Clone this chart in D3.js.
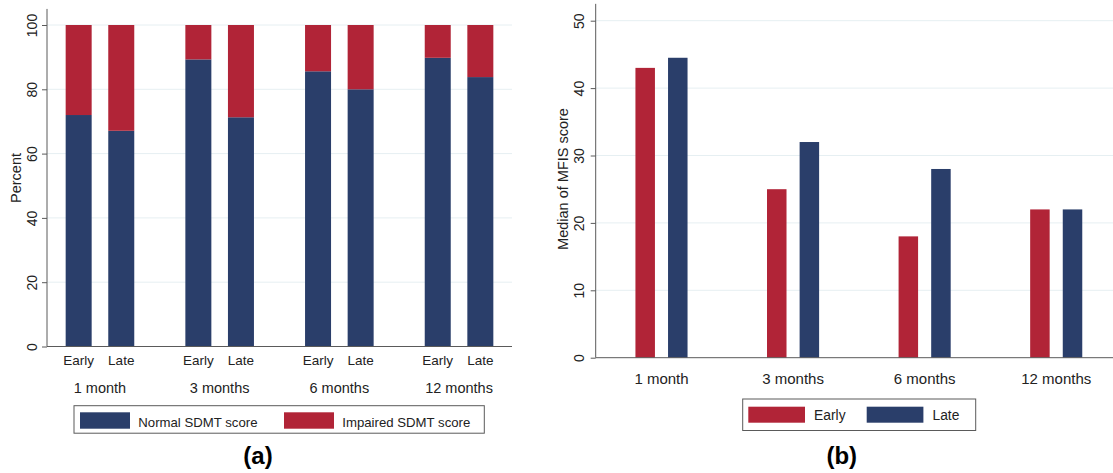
<!DOCTYPE html>
<html>
<head>
<meta charset="utf-8">
<script src="https://cdn.jsdelivr.net/npm/d3@7"></script>
<style>
  body { margin: 0; background: #fff; }
  svg { font-family: "Liberation Sans", Arial, sans-serif; }
</style>
</head>
<body>
<svg width="1113" height="473"></svg>
<script>
// Données
var months = ["1 month", "3 months", "6 months", "12 months"];
var groups = ["Early", "Late"];

// (a) pourcentages SDMT
var normalEarly = [72.0, 89.3, 85.6, 89.8];
var normalLate = [67.1, 71.3, 80.0, 83.8];
var impairedEarly = [28.0, 10.7, 14.4, 10.2];
var impairedLate = [32.9, 28.7, 20.0, 16.2];
var ticksA = [0, 20, 40, 60, 80, 100];

// (b) médiane MFIS
var mfisEarly = [43, 25, 18, 22];
var mfisLate = [44.5, 32, 28, 22];
var ticksB = [0, 10, 20, 30, 40, 50];

var navy = "#2a3e6a";
var red = "#b12437";
var axisColor = "#5a5a5a";
var gridColor = "#e6eff2";

var svg = d3.select("svg");

// axe Y vertical avec labels tournés (style Stata)
function drawYAxis(g, y, ticks, gap) {
  var axis = d3.axisLeft(y).tickValues(ticks).tickSize(5).tickSizeOuter(0);
  var ax = g.append("g").attr("transform", "translate(" + y.xPos + ",0)").call(axis);
  ax.select(".domain").remove();
  ax.selectAll("line").attr("stroke", axisColor);
  ax.selectAll("text")
    .attr("transform", "rotate(-90)")
    .attr("x", 0)
    .attr("y", -gap)
    .attr("dy", 0)
    .attr("text-anchor", "middle")
    .attr("font-size", "14px")
    .attr("font-family", "Liberation Sans, Arial, sans-serif")
    .attr("fill", "#222");
}

// ================= Panneau (a) =================
var ga = svg.append("g");
var yA = d3.scaleLinear().domain([0, 100]).range([346.5, 25]);
yA.xPos = 47;
var xA = d3.scalePoint().domain(months).range([47, 512]).padding(0.4425);
var subA = d3.scalePoint().domain(groups).range([-21.3, 21.3]);
var barWA = 26;

// grille
ga.selectAll("line.grid")
  .data(ticksA.slice(1))
  .enter()
  .append("line")
  .attr("x1", 47)
  .attr("x2", 512)
  .attr("y1", function(d) { return yA(d); })
  .attr("y2", function(d) { return yA(d); })
  .attr("stroke", gridColor)
  .attr("stroke-width", 1);

var dataA = [];
months.forEach(function(m, i) {
  dataA.push({ month: m, group: "Early", normal: normalEarly[i], impaired: impairedEarly[i] });
  dataA.push({ month: m, group: "Late", normal: normalLate[i], impaired: impairedLate[i] });
});

// barres empilées
ga.selectAll("rect.normal")
  .data(dataA)
  .enter()
  .append("rect")
  .attr("x", function(d) { return xA(d.month) + subA(d.group) - barWA / 2; })
  .attr("width", barWA)
  .attr("y", function(d) { return yA(d.normal); })
  .attr("height", function(d) { return yA(0) - yA(d.normal); })
  .attr("fill", navy);

ga.selectAll("rect.impaired")
  .data(dataA)
  .enter()
  .append("rect")
  .attr("x", function(d) { return xA(d.month) + subA(d.group) - barWA / 2; })
  .attr("width", barWA)
  .attr("y", function(d) { return yA(d.normal + d.impaired); })
  .attr("height", function(d) { return yA(d.normal) - yA(d.normal + d.impaired); })
  .attr("fill", red);

// axes
ga.append("line")
  .attr("x1", 47).attr("x2", 47)
  .attr("y1", yA(105)).attr("y2", yA(0))
  .attr("stroke", axisColor);
ga.append("line")
  .attr("x1", 47).attr("x2", 512)
  .attr("y1", yA(0)).attr("y2", yA(0))
  .attr("stroke", axisColor);
drawYAxis(ga, yA, ticksA, 10);

// labels Early / Late
ga.selectAll("text.sub")
  .data(dataA)
  .enter()
  .append("text")
  .attr("x", function(d) { return xA(d.month) + subA(d.group); })
  .attr("y", 365)
  .attr("text-anchor", "middle")
  .attr("font-size", "13.5px")
  .attr("fill", "#222")
  .text(function(d) { return d.group; });

ga.selectAll("text.month")
  .data(months)
  .enter()
  .append("text")
  .attr("x", function(d) { return xA(d); })
  .attr("y", 392.5)
  .attr("text-anchor", "middle")
  .attr("font-size", "14.5px")
  .attr("fill", "#222")
  .text(function(d) { return d; });

ga.append("text")
  .attr("transform", "translate(21,178) rotate(-90)")
  .attr("text-anchor", "middle")
  .attr("font-size", "14.5px")
  .attr("fill", "#222")
  .text("Percent");

// légende (a)
ga.append("rect")
  .attr("x", 74).attr("y", 405.7)
  .attr("width", 410.3).attr("height", 27.5)
  .attr("fill", "none").attr("stroke", axisColor);
var legA = [
  { label: "Normal SDMT score", color: navy, x: 80 },
  { label: "Impaired SDMT score", color: red, x: 284 }
];
legA.forEach(function(l) {
  ga.append("rect").attr("x", l.x).attr("y", 412.3).attr("width", 50).attr("height", 16.4).attr("fill", l.color);
  ga.append("text").attr("x", l.x + 58.3).attr("y", 427)
    .attr("font-size", "13.2px").attr("fill", "#222").text(l.label);
});

ga.append("text")
  .attr("x", 258).attr("y", 464)
  .attr("text-anchor", "middle")
  .attr("font-size", "24px").attr("font-weight", "bold")
  .attr("font-family", "Liberation Sans, Arial, sans-serif")
  .text("(a)");

// ================= Panneau (b) =================
var gb = svg.append("g");
var yB = d3.scaleLinear().domain([0, 50]).range([357.7, 20.7]);
yB.xPos = 595.7;
var xB = d3.scalePoint().domain(months).range([595.7, 1122]).padding(0.5);
var subB = d3.scalePoint().domain(groups).range([-16.3, 16.3]);
var barWB = 19.5;

gb.selectAll("line.grid")
  .data(ticksB.slice(1))
  .enter()
  .append("line")
  .attr("x1", 595.7)
  .attr("x2", 1113)
  .attr("y1", function(d) { return yB(d); })
  .attr("y2", function(d) { return yB(d); })
  .attr("stroke", gridColor)
  .attr("stroke-width", 1);

var dataB = [];
months.forEach(function(m, i) {
  dataB.push({ month: m, group: "Early", value: mfisEarly[i], color: red });
  dataB.push({ month: m, group: "Late", value: mfisLate[i], color: navy });
});

gb.selectAll("rect.bar")
  .data(dataB)
  .enter()
  .append("rect")
  .attr("x", function(d) { return xB(d.month) + subB(d.group) - barWB / 2; })
  .attr("width", barWB)
  .attr("y", function(d) { return yB(d.value); })
  .attr("height", function(d) { return yB(0) - yB(d.value); })
  .attr("fill", function(d) { return d.color; });

gb.append("line")
  .attr("x1", 595.7).attr("x2", 595.7)
  .attr("y1", yB(52.5)).attr("y2", yB(0))
  .attr("stroke", axisColor);
gb.append("line")
  .attr("x1", 595.7).attr("x2", 1113)
  .attr("y1", yB(0)).attr("y2", yB(0))
  .attr("stroke", axisColor);
drawYAxis(gb, yB, ticksB, 12);

gb.selectAll("text.month")
  .data(months)
  .enter()
  .append("text")
  .attr("x", function(d) { return xB(d); })
  .attr("y", 384)
  .attr("text-anchor", "middle")
  .attr("font-size", "15px")
  .attr("fill", "#222")
  .text(function(d) { return d; });

gb.append("text")
  .attr("transform", "translate(568,179) rotate(-90)")
  .attr("text-anchor", "middle")
  .attr("font-size", "14.5px")
  .attr("fill", "#222")
  .text("Median of MFIS score");

// légende (b)
gb.append("rect")
  .attr("x", 742.7).attr("y", 399)
  .attr("width", 233).attr("height", 31.5)
  .attr("fill", "none").attr("stroke", axisColor);
var legB = [
  { label: "Early", color: red, x: 748.3 },
  { label: "Late", color: navy, x: 866.7 }
];
legB.forEach(function(l) {
  gb.append("rect").attr("x", l.x).attr("y", 406.7).attr("width", 56.7).attr("height", 16).attr("fill", l.color);
  gb.append("text").attr("x", l.x + 65.8).attr("y", 420)
    .attr("font-size", "13.8px").attr("fill", "#222").text(l.label);
});

gb.append("text")
  .attr("x", 841.8).attr("y", 464)
  .attr("text-anchor", "middle")
  .attr("font-size", "24px").attr("font-weight", "bold")
  .attr("font-family", "Liberation Sans, Arial, sans-serif")
  .text("(b)");
</script>
</body>
</html>
